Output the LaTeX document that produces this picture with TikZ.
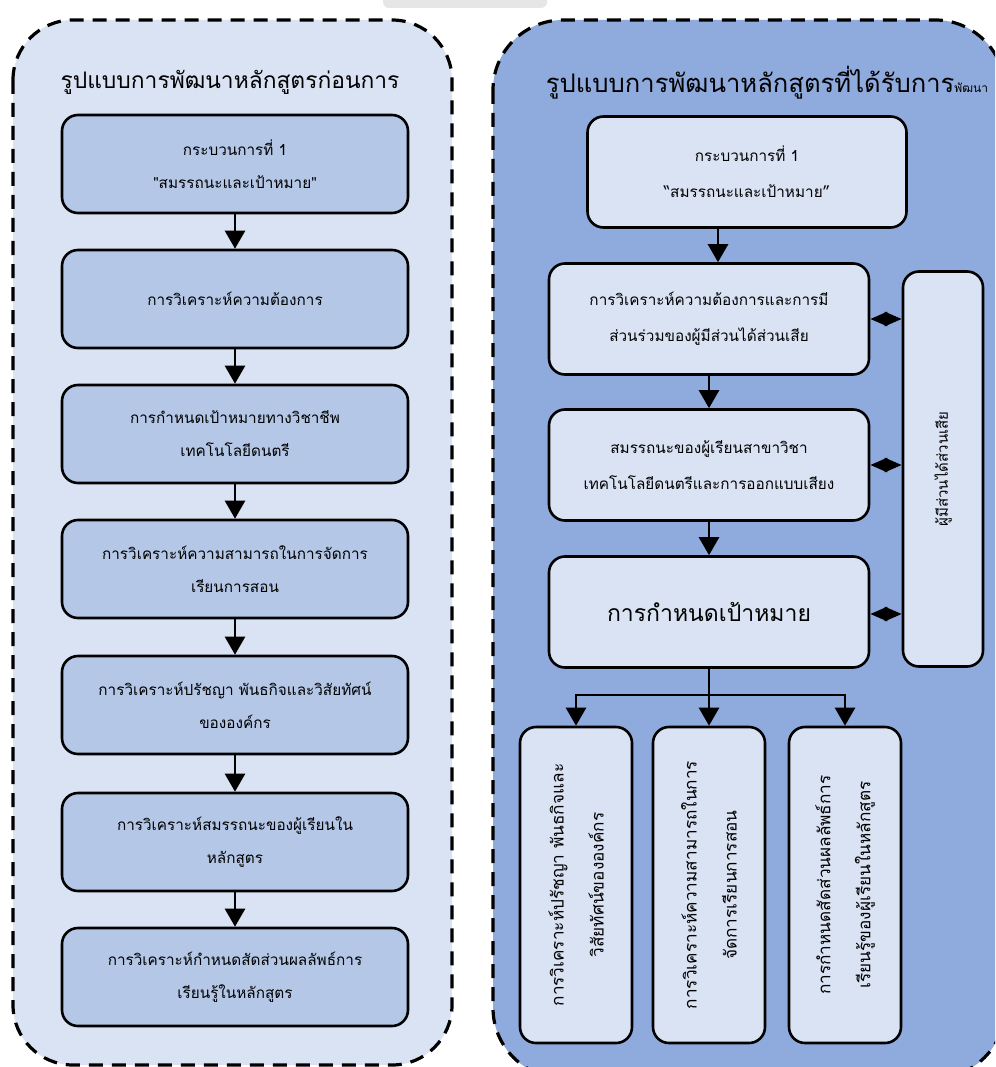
\documentclass[tikz,border=0pt]{standalone}
\usepackage{fontspec}
\newfontfamily\thai[Script=Thai]{Loma}
\usetikzlibrary{arrows.meta}
\definecolor{lbg}{HTML}{DAE3F3}
\definecolor{lboxc}{HTML}{B4C7E7}
\definecolor{rbg}{HTML}{8FAADC}
\definecolor{rboxc}{HTML}{DAE3F3}
\definecolor{wm}{HTML}{E6E6E6}
\begin{document}
\begin{tikzpicture}[x=1pt,y=-1pt,
  outer/.style={draw=black, line width=3.2pt, dash pattern=on 14pt off 9pt},
  lbox/.style={draw=black, line width=2.6pt, rounded corners=16pt, fill=lboxc,
    minimum width=346pt, minimum height=98pt, align=center, inner sep=0pt,
    font=\thai\fontsize{15.3}{33}\selectfont},
  rbox/.style={draw=black, line width=2.6pt, rounded corners=16pt, fill=rboxc,
    minimum width=320pt, minimum height=111pt, align=center, inner sep=0pt,
    font=\thai\fontsize{15.3}{36}\selectfont},
  vbox/.style={draw=black, line width=2.6pt, rounded corners=16pt, fill=rboxc,
    minimum width=112pt, minimum height=316pt, inner sep=0pt},
  vtext/.style={rotate=90, align=center, inner sep=0pt,
    font=\thai\fontsize{17.2}{40}\selectfont},
  title/.style={font=\thai\fontsize{22.8}{26}\selectfont, inner sep=0pt},
  arr/.style={line width=2.6pt, -{Triangle[length=18pt,width=20pt]}},
  line/.style={line width=2.6pt},
  dia/.style={line width=2.6pt, {Triangle[length=17pt,width=14pt]}-{Triangle[length=17pt,width=14pt]}}
]
\useasboundingbox (0,0) rectangle (995,1067);
\begin{scope}
\clip (0,0) rectangle (995,1067);
% watermark
\fill[wm, rounded corners=6pt] (383,-10) rectangle (547,8);
% outer panels
\draw[outer, fill=lbg, rounded corners=60pt] (13,20) rectangle (452,1065);
\draw[outer, fill=rbg, rounded corners=70pt] (493,20) rectangle (1005,1078);
\end{scope}

% titles
\node[title] (lt) at (230,82) {รูปแบบการพัฒนาหลักสูตรก่อนการ};
\node[title, font=\thai\fontsize{25.6}{30}\selectfont] (rt) at (767,83) {รูปแบบการพัฒนาหลักสูตรที่ได้รับการ{\fontsize{12}{14}\selectfont พัฒนา}};

% left column
\node[lbox] (L1) at (235,164) {กระบวนการที่ 1\\"สมรรถนะและเป้าหมาย"};
\node[lbox] (L2) at (235,299) {การวิเคราะห์ความต้องการ};
\node[lbox] (L3) at (235,434) {การกำหนดเป้าหมายทางวิชาชีพ\\เทคโนโลยีดนตรี};
\node[lbox] (L4) at (235,569) {การวิเคราะห์ความสามารถในการจัดการ\\เรียนการสอน};
\node[lbox] (L5) at (235,705) {การวิเคราะห์ปรัชญา พันธกิจและวิสัยทัศน์\\ขององค์กร};
\node[lbox] (L6) at (235,842) {การวิเคราะห์สมรรถนะของผู้เรียนใน\\หลักสูตร};
\node[lbox] (L7) at (235,977) {การวิเคราะห์กำหนดสัดส่วนผลลัพธ์การ\\เรียนรู้ในหลักสูตร};
\foreach \a/\b in {L1/L2,L2/L3,L3/L4,L4/L5,L5/L6,L6/L7}
  \draw[arr] (\a.south) -- (\b.north);

% right column
\node[rbox, minimum width=319pt] (R1) at (747,172) {กระบวนการที่ 1\\“สมรรถนะและเป้าหมาย”};
\node[rbox] (R2) at (709,319) {การวิเคราะห์ความต้องการและการมี\\ส่วนร่วมของผู้มีส่วนได้ส่วนเสีย};
\node[rbox] (R3) at (709,465) {สมรรถนะของผู้เรียนสาขาวิชา\\เทคโนโลยีดนตรีและการออกแบบเสียง};
\node[rbox, font=\thai\fontsize{23}{26}\selectfont] (R4) at (709,612) {การกำหนดเป้าหมาย};
\node[draw=black, line width=2.6pt, rounded corners=16pt, fill=rboxc,
  minimum width=80pt, minimum height=395pt, inner sep=0pt] (S) at (943,469) {};
\node[vtext, font=\thai\fontsize{15}{20}\selectfont] (St) at (S.center) {ผู้มีส่วนได้ส่วนเสีย};

\draw[arr] ([xshift=9pt]R2.north |- R1.south) -- ([xshift=9pt]R2.north);
\draw[arr] (R2.south) -- (R3.north);
\draw[arr] (R3.south) -- (R4.north);
\draw[dia] (R2.east) -- (R2.east -| S.west);
\draw[dia] (R3.east) -- (R3.east -| S.west);
\draw[dia] ([yshift=-2pt]R4.east) -- ([yshift=-2pt]R4.east -| S.west);

% bottom boxes
\node[vbox] (B1) at (576,885) {};
\node[vbox] (B2) at (709,885) {};
\node[vbox] (B3) at (845,885) {};
\node[vtext] (B1t) at (B1.center) {การวิเคราะห์ปรัชญา พันธกิจและ\\วิสัยทัศน์ขององค์กร};
\node[vtext] (B2t) at (B2.center) {การวิเคราะห์ความสามารถในการ\\จัดการเรียนการสอน};
\node[vtext] (B3t) at (B3.center) {การกำหนดสัดส่วนผลลัพธ์การ\\เรียนรู้ของผู้เรียนในหลักสูตร};

\coordinate (fk) at (709,695);
\draw[line] (R4.south) -- (fk);
\draw[arr] ([xshift=1.3pt]fk) -| (B1.north);
\draw[arr] ([xshift=-1.3pt]fk) -| (B3.north);
\draw[arr] (fk) -- (B2.north);
\end{tikzpicture}
\end{document}
